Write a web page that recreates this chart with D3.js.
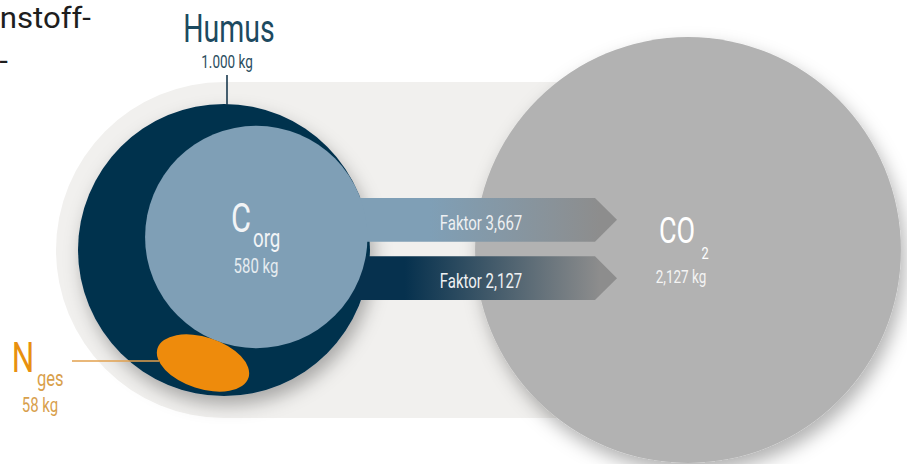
<!DOCTYPE html>
<html>
<head>
<meta charset="utf-8">
<script src="https://cdn.jsdelivr.net/npm/d3@7"></script>
<style>
  html, body { margin: 0; padding: 0; background: #fff; }
  svg { display: block; }
  text { font-family: Roboto, "Open Sans", sans-serif; }
</style>
</head>
<body>
<svg id="chart" width="907" height="464"></svg>
<script>
// ---- data ----
const nodeNames  = ['Humus', 'Corg', 'Nges', 'CO2'];
const nodeValues = [1000, 580, 58, 2127];          // kg
const nodeLabels = ['1.000 kg', '580 kg', '58 kg', '2,127 kg'];
const factorLabels = ['Faktor 3,667', 'Faktor 2,127'];
const introLines = ['nstoff-', '-'];

const svg = d3.select('#chart');
const defs = svg.append('defs');

// area-true radius scale (sqrt)
const rScale = d3.scaleSqrt().domain([0, 1000]).range([0, 146]);
const val = name => nodeValues[nodeNames.indexOf(name)];
const lab = name => nodeLabels[nodeNames.indexOf(name)];

const COLORS = {
  navy:   '#06314e',
  blue:   '#7f9fb6',
  orange: '#ee8b0c',
  gray:   '#b2b2b2',
  bg:     '#f1f0ee',
  arrowEnd: '#8d8d8d'
};

// layout
const humus = { x: 224, y: 250, r: rScale(val('Humus')) };
const corgAngle = -22 * Math.PI / 180;
const corgR = rScale(val('Corg'));
const corg = {
  x: humus.x + (humus.r - corgR) * Math.cos(corgAngle),
  y: humus.y + (humus.r - corgR) * Math.sin(corgAngle),
  r: corgR
};
const co2 = { x: 688, y: 250, r: rScale(val('CO2')) };
const nR = rScale(val('Nges'));
const nges = { x: 203, y: 363, rx: nR * 1.36, ry: nR / 1.36, rot: 18 };

// shadow filter
const shadow = defs.append('filter').attr('id', 'shadow')
  .attr('x', '-30%').attr('y', '-30%').attr('width', '160%').attr('height', '160%');
shadow.append('feDropShadow')
  .attr('dx', 4).attr('dy', 9).attr('stdDeviation', 9)
  .attr('flood-color', '#000').attr('flood-opacity', 0.3);

// arrow gradients
const arrowY = d3.scaleBand().domain(factorLabels).range([198, 300]).paddingInner(0.25);
const arrowStops = [[COLORS.blue, COLORS.arrowEnd], [COLORS.navy, COLORS.arrowEnd]];
factorLabels.forEach((f, i) => {
  const g = defs.append('linearGradient').attr('id', 'ag' + i)
    .attr('gradientUnits', 'userSpaceOnUse')
    .attr('x1', i === 0 ? 430 : 405).attr('x2', 600).attr('y1', 0).attr('y2', 0);
  g.append('stop').attr('offset', 0).attr('stop-color', arrowStops[i][0]);
  g.append('stop').attr('offset', 1).attr('stop-color', arrowStops[i][1]);
});

// text helper (condensed look via horizontal scale)
function label(sel, txt, x, y, size, color, anchor = 'middle', sx = 0.75) {
  return sel.append('text')
    .attr('transform', `translate(${x},${y}) scale(${sx},1)`)
    .attr('text-anchor', anchor)
    .attr('font-size', size)
    .attr('fill', color)
    .text(txt);
}

// ---- background pill ----
svg.append('circle').attr('cx', humus.x).attr('cy', humus.y).attr('r', 168).attr('fill', COLORS.bg);
svg.append('rect').attr('x', humus.x).attr('y', humus.y - 168)
  .attr('width', co2.x - humus.x).attr('height', 336).attr('fill', COLORS.bg);

// ---- CO2 circle ----
svg.append('circle').attr('cx', co2.x).attr('cy', co2.y).attr('r', co2.r)
  .attr('fill', COLORS.gray).attr('filter', 'url(#shadow)');

// ---- Humus circle ----
svg.append('circle').attr('cx', humus.x).attr('cy', humus.y).attr('r', humus.r)
  .attr('fill', COLORS.navy).attr('filter', 'url(#shadow)');

// ---- arrows ----
const tipStart = 595, tipEnd = 617, arrowX0 = 300;
factorLabels.forEach((f, i) => {
  const y0 = arrowY(f), y1 = y0 + arrowY.bandwidth(), ym = (y0 + y1) / 2;
  svg.append('path')
    .attr('d', d3.line()([[arrowX0, y0], [tipStart, y0], [tipEnd, ym], [tipStart, y1], [arrowX0, y1]]) + 'Z')
    .attr('fill', `url(#ag${i})`);
});

// ---- Corg circle ----
svg.append('circle').attr('cx', corg.x).attr('cy', corg.y).attr('r', corg.r).attr('fill', COLORS.blue);

// ---- Nges ellipse ----
svg.append('ellipse')
  .attr('transform', `translate(${nges.x},${nges.y}) rotate(${nges.rot})`)
  .attr('rx', nges.rx).attr('ry', nges.ry).attr('fill', COLORS.orange);

// ---- leader lines ----
svg.append('line').attr('x1', 227).attr('x2', 227).attr('y1', 75).attr('y2', humus.y - humus.r + 1)
  .attr('stroke', '#1b3a4f').attr('stroke-width', 1.6);
svg.append('line').attr('x1', 72).attr('x2', nges.x - nges.rx + 4).attr('y1', 361).attr('y2', 361)
  .attr('stroke', '#e2a04e').attr('stroke-width', 1.6);

// ---- labels ----
label(svg, introLines[0], 91, 28, 30, '#1e1e1e', 'end', 1.04);
label(svg, introLines[1], 8, 71, 30, '#1e1e1e', 'end', 1.04);

label(svg, 'Humus', 229, 42, 38, '#1d4a60');
label(svg, lab('Humus'), 227, 68, 18, '#2a4d60');

label(svg, 'C', 241, 232, 41, '#f2f4f6');
label(svg, 'org', 253, 247, 25, '#f2f4f6', 'start');
label(svg, lab('Corg'), 256, 273, 20, '#e6ecf0');

factorLabels.forEach(f => {
  label(svg, f, 481, arrowY(f) + 32, 20, '#eef0f2');
});

label(svg, 'CO', 677, 243, 36, '#ffffff');
label(svg, '2', 705, 259, 17, '#ffffff');
label(svg, lab('CO2'), 681, 283, 18, '#f4f4f4');

label(svg, 'N', 23, 372, 42, '#e8900e');
label(svg, 'ges', 37, 386, 22, '#d9a04a', 'start');
label(svg, lab('Nges'), 40, 412, 20, '#d8a04c');
</script>
</body>
</html>
